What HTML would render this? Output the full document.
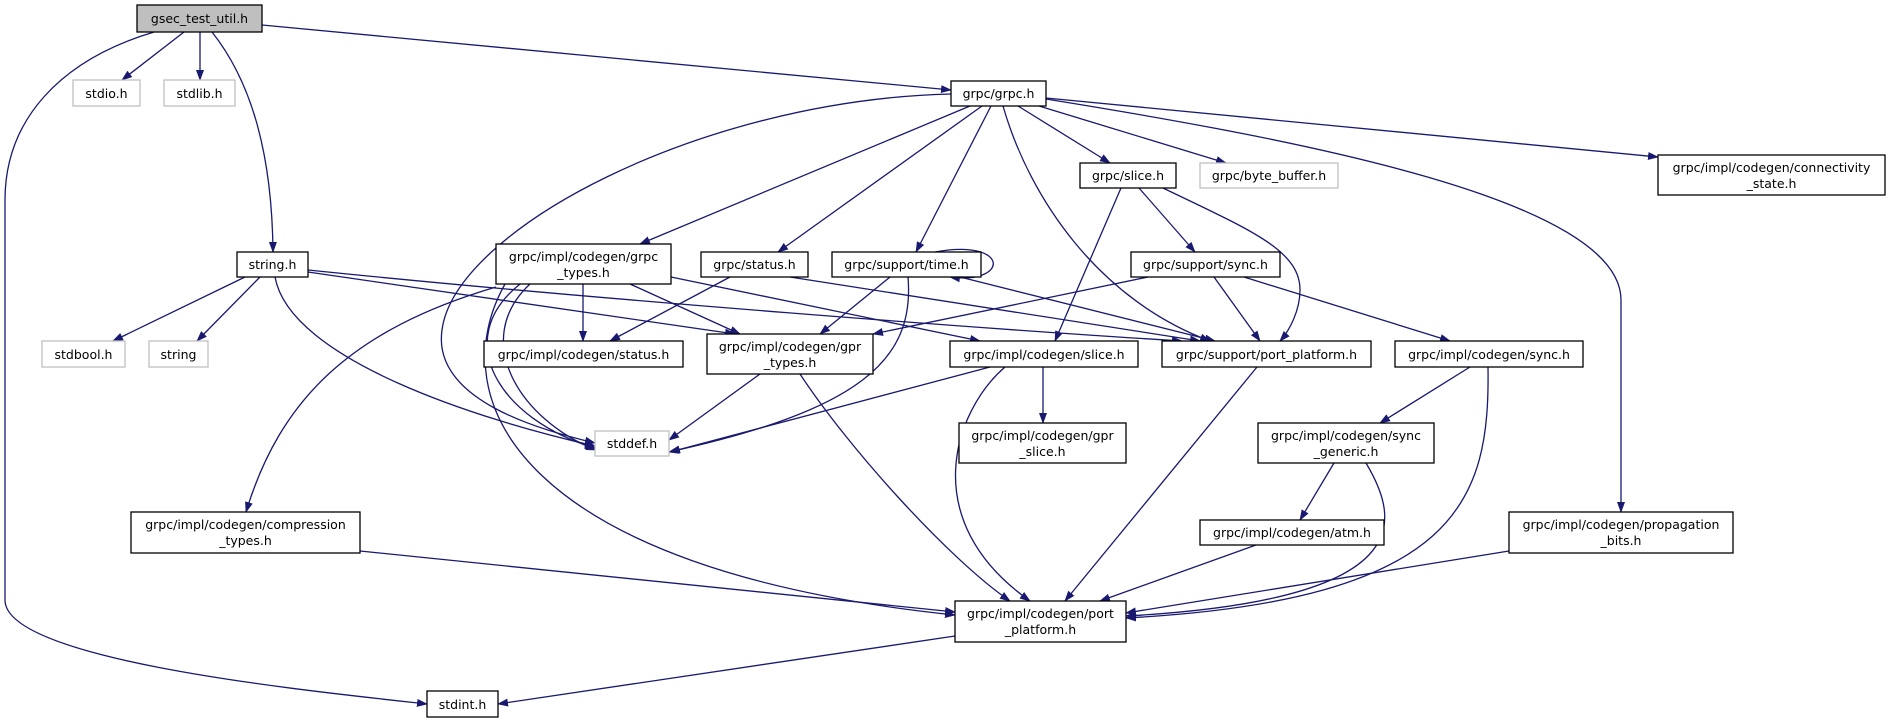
<!DOCTYPE html>
<html><head><meta charset="utf-8"><style>
html,body{margin:0;padding:0;background:#fff;}
svg{display:block;}
text{font-family:"DejaVu Sans","Liberation Sans",sans-serif;font-size:12.5px;fill:#000;text-anchor:middle;}
.e{fill:none;stroke:#191970;stroke-width:1.3;marker-end:url(#a);}
.n{fill:#fff;stroke:#000;stroke-width:1.3;}
.g{fill:#fff;stroke:#bfbfbf;stroke-width:1.3;}
</style></head><body>
<svg width="1891" height="723" viewBox="0 0 1891 723" xmlns="http://www.w3.org/2000/svg">
<defs><marker id="a" markerWidth="11" markerHeight="8" refX="10" refY="4" orient="auto" markerUnits="userSpaceOnUse"><path d="M0,0 L11,4 L0,8 z" fill="#191970"/></marker></defs>

<path class="e" d="M184,32 L122,80"/>
<path class="e" d="M200,32 L200,80"/>
<path class="e" d="M212,32 C250,80 272,150 273,252"/>
<path class="e" d="M154,32 C60,60 5,120 5,200 L5,600 C5,660 300,690 427,704"/>
<path class="e" d="M262,25 L951,90"/>

<path class="e" d="M951,94 C700,100 455,230 442,330 C432,400 540,430 595,443"/>
<path class="e" d="M970,106 L640,244"/>
<path class="e" d="M982,106 L778,252"/>
<path class="e" d="M991,106 L916,252"/>
<path class="e" d="M1003,106 C1030,200 1100,300 1210,341"/>
<path class="e" d="M1018,106 L1110,163"/>
<path class="e" d="M1039,106 L1226,163"/>
<path class="e" d="M1046,98 L1658,157"/>
<path class="e" d="M1046,99 C1300,140 1621,200 1621,300 L1621,512"/>

<path class="e" d="M245,277 L113,341"/>
<path class="e" d="M260,277 L197,341"/>
<path class="e" d="M275,277 C290,360 480,420 595,446"/>
<path class="e" d="M308,272 L735,334"/>
<path class="e" d="M308,270 C600,300 1000,330 1182,341"/>

<path class="e" d="M583,284 L583,341"/>
<path class="e" d="M630,284 L740,334"/>
<path class="e" d="M671,277 L980,341"/>
<path class="e" d="M496,287 C350,330 280,400 246,512"/>
<path class="e" d="M520,284 C450,340 500,420 595,448"/>
<path class="e" d="M530,284 C470,340 520,420 596,450"/>
<path class="e" d="M505,284 C440,400 520,570 955,615"/>

<path class="e" d="M730,277 L610,341"/>
<path class="e" d="M790,277 L1200,341"/>

<path class="e" d="M935,252 C1010,238 1010,285 950,277"/>
<path class="e" d="M890,277 L820,334"/>
<path class="e" d="M908,277 C915,360 860,410 669,452"/>
<path class="e" d="M960,277 L1215,341"/>

<path class="e" d="M1121,188 L1055,341"/>
<path class="e" d="M1139,188 L1195,252"/>
<path class="e" d="M1163,188 C1250,230 1300,250 1300,290 C1300,310 1290,330 1280,341"/>

<path class="e" d="M1148,277 L873,334"/>
<path class="e" d="M1214,277 L1260,341"/>
<path class="e" d="M1244,277 L1450,341"/>

<path class="e" d="M760,374 L669,440"/>
<path class="e" d="M800,374 C850,450 950,560 1010,601"/>

<path class="e" d="M990,367 L670,452"/>
<path class="e" d="M1043,367 L1043,423"/>
<path class="e" d="M1005,367 C955,410 915,520 1030,601"/>

<path class="e" d="M1257,367 L1065,601"/>
<path class="e" d="M1470,367 L1380,423"/>
<path class="e" d="M1488,367 C1490,500 1460,600 1126,618"/>
<path class="e" d="M1334,463 L1300,520"/>
<path class="e" d="M1366,463 C1400,520 1420,600 1126,616"/>
<path class="e" d="M1256,545 L1100,601"/>
<path class="e" d="M1509,551 L1126,613"/>
<path class="e" d="M360,551 L955,612"/>
<path class="e" d="M955,636 L498,704"/>

<rect x="137" y="5" width="125" height="27" fill="#bfbfbf" stroke="#000" stroke-width="1.3"/>
<text x="199.5" y="23">gsec_test_util.h</text>
<rect class="g" x="73" y="80" width="67" height="26"/><text x="106.5" y="98">stdio.h</text>
<rect class="g" x="164" y="80" width="71" height="26"/><text x="199.5" y="98">stdlib.h</text>
<rect class="n" x="237" y="252" width="71" height="25"/><text x="272.5" y="269">string.h</text>
<rect class="g" x="42" y="341" width="83" height="26"/><text x="83.5" y="359">stdbool.h</text>
<rect class="g" x="149" y="341" width="59" height="26"/><text x="178.5" y="359">string</text>
<rect class="n" x="496" y="244" width="175" height="40"/><text x="583.5" y="261">grpc/impl/codegen/grpc</text><text x="583.5" y="277">_types.h</text>
<rect class="n" x="484" y="341" width="199" height="26"/><text x="583.5" y="359">grpc/impl/codegen/status.h</text>
<rect class="n" x="951" y="81" width="95" height="25"/><text x="998.5" y="98">grpc/grpc.h</text>
<rect class="n" x="1080" y="163" width="96" height="25"/><text x="1128" y="180">grpc/slice.h</text>
<rect class="g" x="1200" y="163" width="138" height="25"/><text x="1269" y="180">grpc/byte_buffer.h</text>
<rect class="n" x="701" y="252" width="107" height="25"/><text x="754.5" y="269">grpc/status.h</text>
<rect class="n" x="832" y="252" width="149" height="25"/><text x="906.5" y="269">grpc/support/time.h</text>
<rect class="n" x="1131" y="252" width="149" height="25"/><text x="1205.5" y="269">grpc/support/sync.h</text>
<rect class="n" x="707" y="334" width="166" height="40"/><text x="790" y="351">grpc/impl/codegen/gpr</text><text x="790" y="367">_types.h</text>
<rect class="n" x="950" y="341" width="188" height="26"/><text x="1044" y="359">grpc/impl/codegen/slice.h</text>
<rect class="n" x="1162" y="341" width="209" height="26"/><text x="1266.5" y="359">grpc/support/port_platform.h</text>
<rect class="n" x="1658" y="155" width="227" height="40"/><text x="1771.5" y="172">grpc/impl/codegen/connectivity</text><text x="1771.5" y="188">_state.h</text>
<rect class="n" x="1395" y="341" width="188" height="26"/><text x="1489" y="359">grpc/impl/codegen/sync.h</text>
<rect class="n" x="1258" y="423" width="176" height="40"/><text x="1346" y="440">grpc/impl/codegen/sync</text><text x="1346" y="456">_generic.h</text>
<rect class="n" x="1200" y="520" width="184" height="25"/><text x="1292" y="537">grpc/impl/codegen/atm.h</text>
<rect class="n" x="1509" y="512" width="224" height="41"/><text x="1621" y="529">grpc/impl/codegen/propagation</text><text x="1621" y="545">_bits.h</text>
<rect class="g" x="595" y="431" width="74" height="25"/><text x="632" y="448">stddef.h</text>
<rect class="n" x="959" y="423" width="167" height="40"/><text x="1042.5" y="440">grpc/impl/codegen/gpr</text><text x="1042.5" y="456">_slice.h</text>
<rect class="n" x="131" y="512" width="229" height="41"/><text x="245.5" y="529">grpc/impl/codegen/compression</text><text x="245.5" y="545">_types.h</text>
<rect class="n" x="955" y="601" width="171" height="41"/><text x="1040.5" y="618">grpc/impl/codegen/port</text><text x="1040.5" y="634">_platform.h</text>
<rect class="n" x="427" y="691" width="71" height="26"/><text x="462.5" y="709">stdint.h</text>
</svg>
</body></html>
